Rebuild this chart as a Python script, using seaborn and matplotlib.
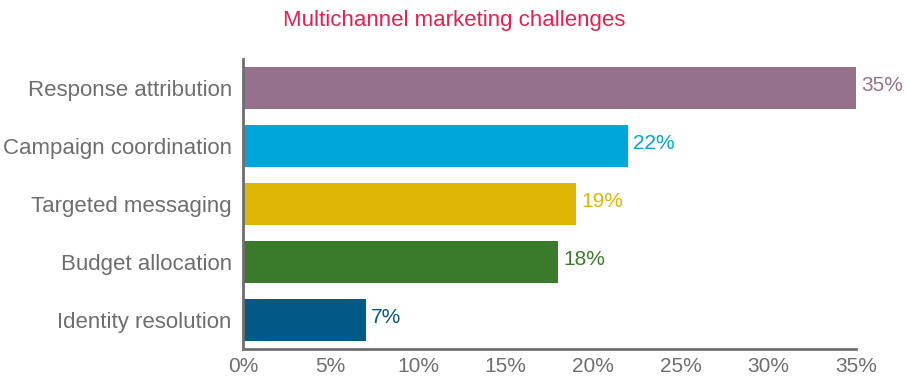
import matplotlib
matplotlib.use("Agg")
import matplotlib.pyplot as plt
import seaborn as sns
import pandas as pd

categories = ["Response attribution", "Campaign coordination", "Targeted messaging",
              "Budget allocation", "Identity resolution"]
values = [35, 22, 19, 18, 7]
colors = ["#96718c", "#00a6da", "#dfb506", "#3a7b2b", "#005a85"]
ticks = [0, 5, 10, 15, 20, 25, 30, 35]

sns.set_style("white")
plt.rcParams["font.family"] = ["Liberation Sans Narrow", "Liberation Sans", "DejaVu Sans"]

df = pd.DataFrame({"challenge": categories, "pct": values})

fig = plt.figure(figsize=(9.08, 3.85), dpi=100)
ax = fig.add_axes([0.2676, 0.0935, 0.675, 0.7533])
sns.barplot(data=df, x="pct", y="challenge", hue="challenge", palette=colors,
            legend=False, width=0.74, saturation=1, linewidth=0, ax=ax)

for i, (v, c) in enumerate(zip(values, colors)):
    ax.text(v + 0.3, i - 0.05, f"{v}%", color=c, fontsize=15, va="center", ha="left")

ax.set_xlim(0, 35)
ax.set_ylim(4.5, -0.5)
ax.set_xticks(ticks)
ax.set_xticklabels([f"{t}%" for t in ticks])
ax.set_xlabel("")
ax.set_ylabel("")
gray = "#6e6e6e"
for s in ["top", "right"]:
    ax.spines[s].set_visible(False)
for s in ["left", "bottom"]:
    ax.spines[s].set_color(gray)
    ax.spines[s].set_linewidth(2)
ax.tick_params(axis="x", direction="in", length=8, width=2, color=gray,
               labelcolor=gray, labelsize=15, pad=6)
ax.tick_params(axis="y", length=0, labelcolor=gray, labelsize=16, pad=8)
fig.suptitle("Multichannel marketing challenges", color="#e8204f", fontsize=16,
             x=0.5, y=0.975)

fig.savefig("out.png", dpi=100)
